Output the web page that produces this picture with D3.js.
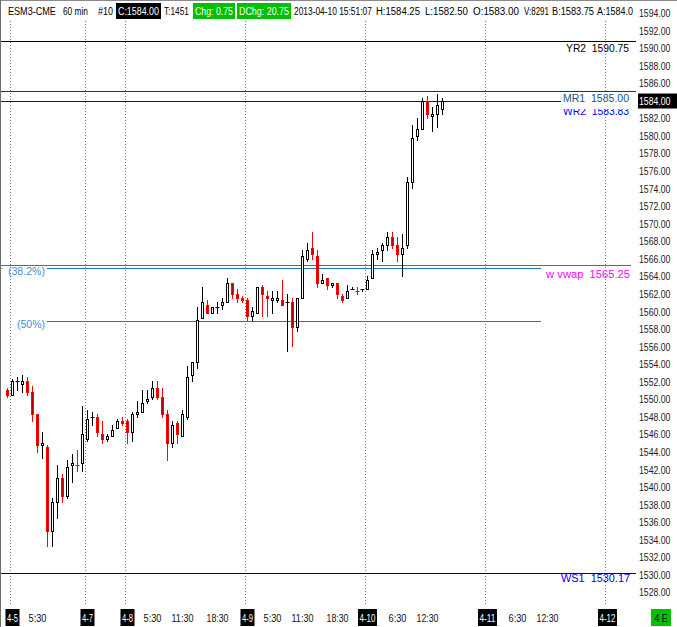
<!DOCTYPE html>
<html><head><meta charset="utf-8">
<script src="https://cdn.jsdelivr.net/npm/d3@7"></script>
<style>html,body{margin:0;padding:0;background:#fff;overflow:hidden}</style>
</head><body>
<svg id="c" width="677" height="627"></svg>
<script>
// ---- data ----
const openP  = [1551.0,1550.5,1552.0,1551.75,1552.0,1550.75,1548.25,1544.75,1544.5,1535.0,1538.25,1541.0,1539.0,1542.5,1542.5,1542.75,1545.5,1548.0,1548.0,1546.0,1545.5,1545.75,1546.75,1547.5,1547.5,1546.25,1548.25,1548.5,1549.75,1550.25,1551.25,1550.25,1548.25,1545.0,1547.25,1545.75,1548.0,1552.75,1554.25,1559.25,1560.75,1559.75,1560.5,1560.75,1561.0,1563.25,1562.0,1561.5,1561.25,1559.5,1559.75,1562.75,1561.75,1561.25,1561.25,1561.25,1561.0,1561.0,1558.25,1561.5,1566.0,1567.25,1566.25,1563.25,1563.75,1563.0,1563.25,1561.75,1561.5,1562.5,1562.25,1562.5,1562.5,1563.75,1566.5,1567.0,1567.5,1568.5,1567.5,1566.5,1567.5,1574.75,1580.0,1580.75,1584.0,1582.25,1582.5,1583.0];
const highP  = [1551.25,1552.25,1552.5,1552.75,1552.5,1551.5,1548.25,1546.25,1544.75,1538.75,1542.5,1541.5,1543.0,1543.75,1544.25,1549.25,1548.75,1548.5,1548.25,1547.5,1546.0,1547.0,1547.75,1548.0,1547.75,1548.5,1549.75,1551.0,1551.0,1552.0,1552.0,1551.25,1548.75,1547.5,1547.5,1548.75,1553.75,1554.25,1560.5,1562.75,1561.25,1560.5,1561.0,1561.5,1563.75,1563.25,1562.5,1561.75,1561.5,1560.5,1562.75,1563.0,1562.25,1562.25,1562.25,1563.5,1562.0,1561.5,1561.5,1567.0,1567.75,1569.0,1567.0,1564.25,1563.75,1563.25,1563.25,1562.0,1563.0,1562.75,1562.75,1562.5,1564.0,1567.0,1567.25,1567.75,1569.0,1569.0,1568.5,1568.75,1575.25,1581.25,1582.0,1584.25,1584.5,1583.25,1584.75,1584.25];
const lowP   = [1550.25,1550.5,1551.0,1550.75,1550.5,1547.5,1544.0,1543.25,1533.25,1533.25,1536.5,1538.25,1538.75,1540.5,1541.75,1541.75,1545.25,1547.0,1545.75,1545.0,1545.25,1545.75,1546.75,1547.0,1545.0,1545.25,1548.0,1548.5,1549.5,1550.0,1550.0,1548.0,1543.0,1544.5,1545.0,1545.75,1547.75,1552.0,1553.5,1559.25,1559.75,1559.75,1559.75,1560.25,1561.0,1561.5,1561.0,1561.0,1559.0,1559.0,1559.75,1559.5,1559.5,1559.75,1561.0,1560.75,1555.5,1556.0,1557.75,1561.5,1565.75,1566.0,1562.75,1563.25,1562.5,1562.75,1561.5,1561.0,1561.5,1562.5,1562.0,1562.25,1562.5,1563.75,1566.0,1565.75,1567.0,1567.25,1565.75,1564.0,1567.25,1574.0,1579.5,1580.75,1582.0,1580.5,1581.0,1582.5];
const closeP = [1550.5,1552.0,1552.0,1552.0,1550.75,1548.25,1544.75,1545.0,1535.0,1538.25,1541.0,1539.0,1542.25,1542.75,1542.5,1546.0,1547.75,1548.0,1546.25,1545.5,1545.75,1546.5,1547.5,1547.25,1546.25,1548.25,1548.5,1549.5,1550.0,1551.25,1550.25,1548.25,1545.0,1547.0,1546.0,1548.25,1552.5,1554.25,1559.0,1561.0,1559.75,1560.5,1560.5,1561.0,1563.25,1562.0,1561.5,1561.25,1559.5,1560.0,1562.75,1562.0,1561.5,1561.5,1561.5,1560.75,1561.0,1558.25,1561.5,1566.25,1567.0,1566.5,1563.25,1563.5,1563.0,1563.25,1562.0,1561.25,1562.25,1562.5,1562.25,1562.5,1563.5,1566.5,1566.75,1567.5,1568.5,1567.5,1566.5,1567.25,1574.75,1579.75,1580.75,1584.0,1582.5,1582.5,1583.5,1584.0];

const dayLabels = ["4-5","4-7","4-8","4-9","4-10","4-11","4-12"];
const dayBars   = [1,16,24,48,72,96,120];
const timeLabels = ["5:30","5:30","11:30","18:30","5:30","11:30","18:30","6:30","12:30","6:30","12:30"];
const timeBars   = [6,29,35,42,53,59,66,78,84,102,108];
const priceTicks = d3.range(1528, 1595, 2);
const lastPrice = 1584.00;

const levelNames  = ["YR2","MR1","WR2","w vwap","WS1"];
const levelValues = [1590.75,1585.00,1583.83,1565.25,1530.17];
const fibNames  = ["(38.2%)","(50%)"];
const fibValues = [1564.92,1558.88];

const headerTexts = ["ESM3-CME","60 min","#10","C:1584.00","T:1451","Chg: 0.75","DChg: 20.75","2013-04-10 15:51:07","H:1584.25","L:1582.50","O:1583.00","V:8291","B:1583.75","A:1584.0"];

// ---- layout ----
const svg = d3.select("#c");
const FONT = "'Liberation Sans', Arial, sans-serif";
const x = d3.scaleLinear().domain([0,126]).range([7.5,637.5]);
const y = d3.scaleLinear().domain([1594,1528]).range([12.7,592.2]);
const py = v => Math.round(y(v));
const SP = "\u00a0\u00a0";

// horizontally compress a text to a target width (scaling about its anchor x)
function fit(sel, w){
  const n = sel.node();
  const nat = n.getComputedTextLength();
  if (nat > 0) {
    const s = w / nat;
    const ax = +sel.attr("x");
    sel.attr("transform", `translate(${ax},0) scale(${s},1) translate(${-ax},0)`);
  }
  return sel;
}

svg.append("rect").attr("width",677).attr("height",627).attr("fill","#fff");

// gridlines
svg.append("g").selectAll("line").data(dayBars).join("line")
  .attr("x1",d=>x(d)-2).attr("x2",d=>x(d)-2).attr("y1",21).attr("y2",606)
  .attr("stroke","#7a7a7a").attr("stroke-dasharray","1,2");

// level lines
const lvlX2 = [636,636,561,631,636];
const lvlStroke = ["#000","#17375e","#0000ff","#ff00ff","#111"];
const lvlText = ["#000","#24527f","#0000ff","#ff00ff","#0000ff"];
const lvlW = [63,66,66,84,69];
const lvlEnd = [629,629,629,630,630];
const lvlFs = [11.5,11,11,11.5,11.5];
const lg = svg.append("g");
levelValues.forEach((v,k)=>{
  lg.append("line").attr("x1",1).attr("x2",lvlX2[k])
    .attr("y1",Math.floor(y(v))+0.5).attr("y2",Math.floor(y(v))+0.5)
    .attr("stroke",lvlStroke[k]).attr("stroke-width",1);
});
// fib lines
const fibLabelX = [8,17];
const fibW = [37,28];
fibValues.forEach((v,k)=>{
  const yy = Math.floor(y(v))+0.5;
  lg.append("line").attr("x1",47).attr("x2",541).attr("y1",yy).attr("y2",yy)
    .attr("stroke","#1b78b8").attr("stroke-width",1);
  fit(lg.append("text").attr("x",fibLabelX[k]).attr("y",yy+2.5).attr("dominant-baseline","central")
    .attr("font-family",FONT).attr("font-size",11.5).attr("fill","#3b8fd8").text(fibNames[k]), fibW[k]);
});
lg.append("rect").attr("x",1.5).attr("y",Math.floor(y(fibValues[0]))).attr("width",1).attr("height",1).attr("fill","#1b78b8");

// candles
const cg = svg.append("g");
openP.forEach((o,i)=>{
  const c = closeP[i], h = highP[i], l = lowP[i];
  const cx = x(i);
  let down = c < o;
  if (c === o && i>0) down = c < closeP[i-1];
  const col = down ? "#ff0000" : "#000";
  cg.append("line").attr("x1",cx).attr("x2",cx).attr("y1",py(h)).attr("y2",py(l)+1)
    .attr("stroke",col).attr("stroke-width",1);
  const yt = py(Math.max(o,c)), yb = py(Math.min(o,c));
  if (c === o) {
    cg.append("line").attr("x1",cx-2).attr("x2",cx+2).attr("y1",yt+0.5).attr("y2",yt+0.5)
      .attr("stroke",col).attr("stroke-width",1);
  } else if (down) {
    cg.append("rect").attr("x",cx-1.5).attr("y",yt).attr("width",3).attr("height",Math.max(1,yb-yt+1))
      .attr("fill","#ff0000");
    cg.append("line").attr("x1",cx).attr("x2",cx).attr("y1",yt+1).attr("y2",yb)
      .attr("stroke","#b80000").attr("stroke-width",1);
  } else {
    cg.append("rect").attr("x",cx-1).attr("y",yt+0.5).attr("width",2).attr("height",Math.max(1,yb-yt))
      .attr("fill","#fff").attr("stroke","#000").attr("stroke-width",1);
  }
});

// level labels
const tg = svg.append("g").attr("font-family",FONT);
const lblY = [47.5,98,110.5,274,578];
[0,2,3,4].forEach(k=>{
  fit(tg.append("text").attr("x",lvlEnd[k]).attr("y",lblY[k]).attr("text-anchor","end").attr("font-size",lvlFs[k])
    .attr("dominant-baseline","central").attr("fill",lvlText[k]).text(levelNames[k]+SP+levelValues[k].toFixed(2)), lvlW[k]);
});
// MR1 label background hides the top of the WR2 label
tg.append("rect").attr("x",562).attr("y",Math.floor(y(levelValues[1]))+1).attr("width",72).attr("height",17).attr("fill","#fff");
fit(tg.append("text").attr("x",lvlEnd[1]).attr("y",lblY[1]).attr("text-anchor","end").attr("font-size",lvlFs[1])
  .attr("dominant-baseline","central").attr("fill",lvlText[1]).text(levelNames[1]+SP+levelValues[1].toFixed(2)), lvlW[1]);

// right price axis
const ag = svg.append("g").attr("font-family",FONT).attr("font-size",10.5);
priceTicks.filter(t=>t!==lastPrice).forEach(t=>{
  fit(ag.append("text").attr("x",639).attr("y",y(t)+0.5).attr("dominant-baseline","central")
    .attr("fill","#222").text(t.toFixed(2)), 31.5);
});
ag.append("rect").attr("x",638).attr("y",Math.round(y(lastPrice))-7.5).attr("width",39).attr("height",15).attr("fill","#000");
fit(ag.append("text").attr("x",639).attr("y",y(lastPrice)+0.5).attr("dominant-baseline","central")
  .attr("fill","#fff").text(lastPrice.toFixed(2)), 31.5);

// header
const hx = [8,63,98,118,164,195,239,294,376,425,473,524,552,597];
const hw = [48,25,15,41,25,38,50,78,44,43,46,25,42,36];
const hg = svg.append("g").attr("font-family",FONT).attr("font-size",11);
hg.append("rect").attr("x",116).attr("y",3).attr("width",45).attr("height",16).attr("fill","#000");
hg.append("rect").attr("x",193).attr("y",3).attr("width",42).attr("height",16).attr("fill","#00c000");
hg.append("rect").attr("x",237).attr("y",3).attr("width",54).attr("height",16).attr("fill","#00c000");
headerTexts.forEach((t,k)=>{
  const white = (k===3||k===5||k===6);
  fit(hg.append("text").attr("x",hx[k]).attr("y",11).attr("dominant-baseline","central")
    .attr("fill",white?"#fff":"#000").text(t), hw[k]);
});

// bottom time axis
const bg = svg.append("g").attr("font-family",FONT).attr("font-size",11);
dayLabels.forEach((d,k)=>{
  const w = d.length>3 ? 19 : 14;
  const cx = x(dayBars[k]);
  bg.append("rect").attr("x",cx-w/2).attr("y",609).attr("width",w).attr("height",17).attr("fill","#000");
  fit(bg.append("text").attr("x",cx).attr("y",618).attr("text-anchor","middle").attr("dominant-baseline","central")
    .attr("fill","#fff").text(d), w-3);
});
timeLabels.forEach((t,k)=>{
  fit(bg.append("text").attr("x",x(timeBars[k])).attr("y",618).attr("text-anchor","middle").attr("dominant-baseline","central")
    .attr("fill","#111").text(t), t.length>4?22:18);
});
bg.append("rect").attr("x",651).attr("y",609).attr("width",20).attr("height",17).attr("fill","#00c000");
fit(bg.append("text").attr("x",661).attr("y",618).attr("text-anchor","middle").attr("dominant-baseline","central")
  .attr("fill","#000").text("4 E"), 13);

// borders
svg.append("line").attr("x1",0).attr("x2",677).attr("y1",0.5).attr("y2",0.5).attr("stroke","#8a8a8a");
svg.append("line").attr("x1",0.5).attr("x2",0.5).attr("y1",0).attr("y2",627).attr("stroke","#6e6e6e").attr("stroke-width",1);
</script>
</body></html>
